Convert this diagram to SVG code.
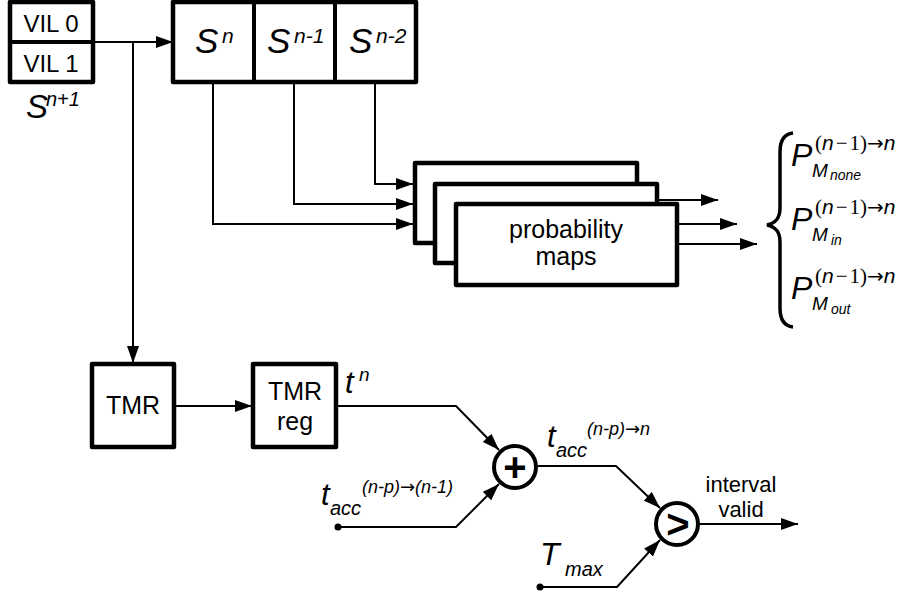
<svg xmlns="http://www.w3.org/2000/svg" width="915" height="596" viewBox="0 0 915 596">
<defs>
<style>
.box{fill:#fff;stroke:#000;stroke-width:4.5;stroke-linejoin:round}
.ln{fill:none;stroke:#000;stroke-width:2}
.t{font-family:"Liberation Sans",Arial,sans-serif;fill:#000}
.c{text-anchor:middle}
.i{font-style:italic}
.s{font-family:"Liberation Serif","Times New Roman",serif;font-style:normal}
.ar{font-family:"DejaVu Sans",sans-serif;font-style:normal}
.circ{fill:#fff;stroke:#000;stroke-width:4}
</style>
<marker id="ah" markerUnits="userSpaceOnUse" markerWidth="17" markerHeight="12" refX="17" refY="6" orient="auto">
<path d="M0,0 L17,6 L0,12 z" fill="#000"/>
</marker>
</defs>
<rect width="915" height="596" fill="#fff"/>

<g id="connectors">
<line class="ln" x1="93" y1="42" x2="173" y2="42" marker-end="url(#ah)"/>
<line class="ln" x1="133" y1="42" x2="133" y2="363" marker-end="url(#ah)"/>
<polyline class="ln" points="213,82 213,224 413,224" marker-end="url(#ah)"/>
<polyline class="ln" points="294,82 294,204 413,204" marker-end="url(#ah)"/>
<polyline class="ln" points="375,82 375,184 413,184" marker-end="url(#ah)"/>
<line class="ln" x1="657" y1="200" x2="718" y2="200" marker-end="url(#ah)"/>
<line class="ln" x1="677" y1="224" x2="737" y2="224" marker-end="url(#ah)"/>
<line class="ln" x1="677" y1="244" x2="757" y2="244" marker-end="url(#ah)"/>
<line class="ln" x1="174" y1="406" x2="252" y2="406" marker-end="url(#ah)"/>
<polyline class="ln" points="336,406 456,406 499,450" marker-end="url(#ah)"/>
<polyline class="ln" points="338,527 456,527 499,484" marker-end="url(#ah)"/>
<polyline class="ln" points="538,466 616,466 660,508" marker-end="url(#ah)"/>
<polyline class="ln" points="540,587 617,587 660,540" marker-end="url(#ah)"/>
<line class="ln" x1="699" y1="524" x2="798" y2="524" marker-end="url(#ah)"/>
<circle cx="338" cy="527" r="3.5" fill="#000"/>
<circle cx="540" cy="587" r="3.5" fill="#000"/>
</g>

<g id="vil">
<rect class="box" x="10" y="2" width="83" height="80"/>
<line x1="10" y1="42" x2="93" y2="42" stroke="#000" stroke-width="4"/>
<text class="t c" x="51" y="32" font-size="24">VIL 0</text>
<text class="t c" x="51" y="72" font-size="24">VIL 1</text>
</g>
<g id="snext">
<text class="t i" x="26" y="118" font-size="33">S</text>
<text class="t i" x="46" y="106" font-size="20">n+1</text>
</g>

<g id="sreg">
<rect class="box" x="173" y="2" width="243" height="80"/>
<line x1="254" y1="2" x2="254" y2="82" stroke="#000" stroke-width="4"/>
<line x1="335" y1="2" x2="335" y2="82" stroke="#000" stroke-width="4"/>
<text class="t i" x="195" y="53" font-size="35">S</text>
<text class="t i" x="222" y="43" font-size="21">n</text>
<text class="t i" x="267" y="53" font-size="35">S</text>
<text class="t i" x="294" y="43" font-size="21">n-1</text>
<text class="t i" x="349" y="53" font-size="35">S</text>
<text class="t i" x="376" y="43" font-size="21">n-2</text>
</g>

<g id="probmaps">
<rect class="box" x="415" y="163" width="222" height="80"/>
<rect class="box" x="435" y="184" width="222" height="79"/>
<rect class="box" x="456" y="204" width="221" height="81"/>
<text class="t c" x="566" y="238" font-size="25">probability</text>
<text class="t c" x="566" y="265" font-size="25">maps</text>
</g>

<g id="brace">
<path d="M793 133 C784 134 780 140 780 152 L780 208 C780 218 776 223 767 225 C776 227 780 232 780 242 L780 308 C780 320 784 326 793 327" fill="none" stroke="#000" stroke-width="3.5"/>
</g>

<g id="p1">
<text class="t i" x="791" y="166" font-size="32">P</text>
<text class="t" x="815" y="150" font-size="21"><tspan class="s">(</tspan><tspan class="i">n</tspan><tspan class="s" dx="2">−</tspan><tspan class="s" dx="2">1</tspan><tspan class="s">)</tspan><tspan class="ar" font-size="20">→</tspan><tspan class="i">n</tspan></text>
<text class="t i" x="812" y="177" font-size="19">M</text>
<text class="t i" x="830" y="180" font-size="14">none</text>
</g>
<g id="p2">
<text class="t i" x="791" y="230" font-size="32">P</text>
<text class="t" x="815" y="214" font-size="21"><tspan class="s">(</tspan><tspan class="i">n</tspan><tspan class="s" dx="2">−</tspan><tspan class="s" dx="2">1</tspan><tspan class="s">)</tspan><tspan class="ar" font-size="20">→</tspan><tspan class="i">n</tspan></text>
<text class="t i" x="812" y="241" font-size="19">M</text>
<text class="t i" x="831" y="245" font-size="14">in</text>
</g>
<g id="p3">
<text class="t i" x="791" y="299" font-size="32">P</text>
<text class="t" x="815" y="283" font-size="21"><tspan class="s">(</tspan><tspan class="i">n</tspan><tspan class="s" dx="2">−</tspan><tspan class="s" dx="2">1</tspan><tspan class="s">)</tspan><tspan class="ar" font-size="20">→</tspan><tspan class="i">n</tspan></text>
<text class="t i" x="812" y="310" font-size="19">M</text>
<text class="t i" x="831" y="314" font-size="14">out</text>
</g>

<g id="tmr">
<rect class="box" x="92" y="364" width="82" height="83"/>
<text class="t c" x="133" y="414" font-size="25">TMR</text>
</g>
<g id="tmrreg">
<rect class="box" x="253" y="364" width="83" height="83"/>
<text class="t c" x="295" y="400" font-size="25">TMR</text>
<text class="t c" x="295" y="430" font-size="25">reg</text>
</g>
<g id="tn">
<text class="t i" x="345" y="393" font-size="31">t</text>
<text class="t i" x="359" y="381" font-size="19">n</text>
</g>

<g id="adder">
<circle class="circ" cx="515" cy="467" r="21"/>
<text class="t c" x="515" y="481" font-size="40" font-weight="bold">+</text>
</g>
<g id="comparator">
<circle class="circ" cx="677" cy="524" r="21"/>
<text class="t c" x="678" y="538" font-size="40" font-weight="bold">&gt;</text>
</g>

<g id="tacc-prev">
<text class="t i" x="321" y="505" font-size="31">t</text>
<text class="t i" x="330" y="515" font-size="20">acc</text>
<text class="t i" x="362" y="493" font-size="18">(n-p)<tspan class="ar" font-size="18">→</tspan>(n-1)</text>
</g>
<g id="tacc-now">
<text class="t i" x="547" y="447" font-size="31">t</text>
<text class="t i" x="556" y="457" font-size="20">acc</text>
<text class="t i" x="587" y="435" font-size="18">(n-p)<tspan class="ar" font-size="18">→</tspan>n</text>
</g>
<g id="tmax">
<text class="t i" x="540" y="565" font-size="32">T</text>
<text class="t i" x="565" y="576" font-size="20">max</text>
</g>
<g id="out-label">
<text class="t c" x="741" y="492" font-size="22">interval</text>
<text class="t c" x="741" y="517" font-size="22">valid</text>
</g>
</svg>
